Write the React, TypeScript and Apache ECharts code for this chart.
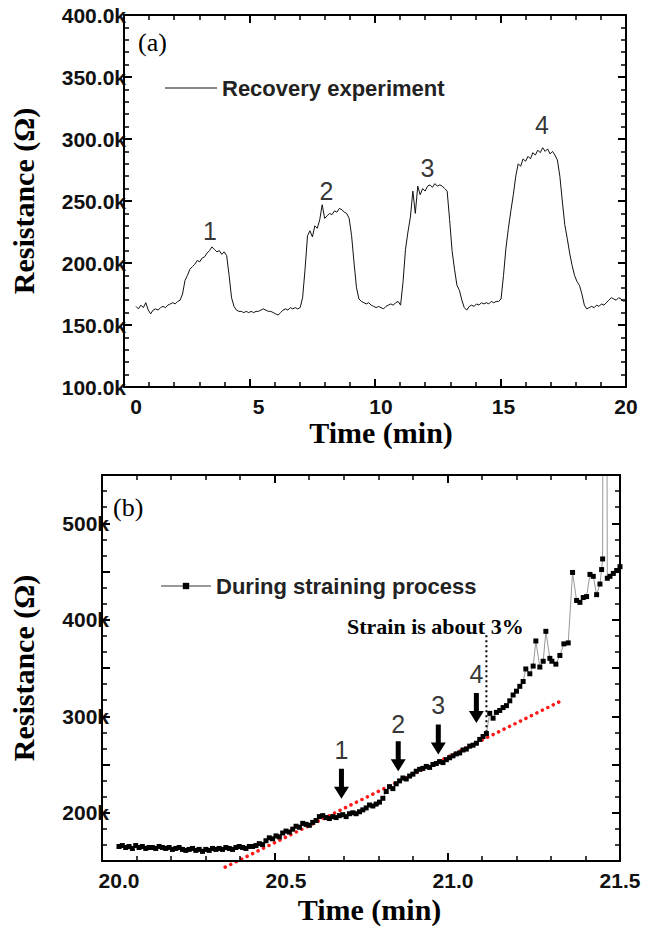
import React, { useEffect, useRef } from "react";
import * as echarts from "echarts";

// Panel (a): resistance (kΩ) sampled every 0.1 min from 0 to 20 min
const aStep = 0.1;
const aRes = [
  165, 163, 166, 164, 168, 162, 159, 162, 163, 162,
  164, 165, 164, 166, 167, 168, 167, 169, 170, 175,
  186, 190, 195, 197, 199, 202, 201, 204, 205, 208,
  210, 213, 211, 209, 210, 207, 209, 206, 190, 172,
  165, 162, 161, 161, 160, 161, 160, 161, 160, 161,
  161, 162, 163, 162, 161, 161, 160, 159, 158, 160,
  162, 163, 162, 164, 163, 164, 163, 164, 172, 195,
  222, 226, 221, 230, 228, 235, 247, 236, 238, 240,
  239, 242, 241, 244, 243, 241, 240, 236, 222, 200,
  180, 171, 169, 168, 167, 168, 166, 165, 164, 165,
  164, 163, 165, 166, 167, 166, 168, 169, 166, 185,
  211, 225, 237, 258, 240, 262, 255, 260, 258, 262,
  263, 261, 264, 262, 263, 262, 260, 258, 235, 210,
  195, 182, 178, 170, 164, 162, 165, 166, 165, 167,
  166, 168, 167, 168, 167, 169, 168, 169, 169, 171,
  190, 212, 228, 242, 255, 270, 280, 278, 284, 282,
  286, 284, 289, 287, 291, 289, 293, 290, 292, 288,
  290, 287, 283, 270, 250, 231, 220, 208, 198, 190,
  185, 182, 175, 166, 163, 164, 165, 164, 166, 165,
  167, 166, 168, 170, 172, 171, 170, 172, 171, 169,
  170,
];
const aPeakLabels = [
  { name: "1", t: 3.02, r: 226 },
  { name: "2", t: 7.77, r: 258 },
  { name: "3", t: 11.9, r: 277 },
  { name: "4", t: 16.57, r: 311 },
];

// Panel (b): resistance (kΩ) every 0.01 min from 20.00 to 21.10 min
const bStart = 20.0;
const bStep = 0.01;
const bResUniform = [
  165, 166, 164, 165, 163, 166, 164, 165, 163, 164,
  164, 163, 165, 164, 163, 164, 162, 163, 164, 162,
  161, 162, 163, 161, 162, 160, 162, 161, 163, 162,
  163, 162, 164, 163, 162, 164, 165, 164, 163, 165,
  165, 166, 168, 167, 171, 174, 173, 176, 175, 179,
  181, 180, 183, 186, 185, 189, 188, 187, 190, 192,
  196, 197, 195, 194, 196, 195, 197, 198, 196, 199,
  200, 199, 201, 203, 205, 208, 207, 209, 211, 215,
  222, 227, 225, 230, 233, 236, 235, 238, 240, 243,
  245, 246, 248, 247, 250, 251, 253, 252, 255, 257,
  259, 261, 262, 265, 266, 269, 270, 272, 276, 279,
  282,
];
// later part (time min, resistance kΩ)
const bTailTime = [
  21.11, 21.12, 21.13, 21.14, 21.15, 21.16, 21.17, 21.18, 21.19, 21.2,
  21.21, 21.218, 21.23, 21.24, 21.248, 21.26, 21.27, 21.278, 21.29, 21.296,
  21.308, 21.32, 21.332, 21.345, 21.358, 21.37, 21.38, 21.39, 21.4, 21.41,
  21.42, 21.43, 21.44, 21.445, 21.448, 21.455, 21.462, 21.47, 21.48, 21.49, 21.5,
];
const bTailRes = [
  303, 298, 304, 306, 309, 311, 316, 322, 326, 331,
  336, 349, 344, 352, 378, 351, 357, 388, 360, 357,
  354, 363, 375, 376, 449, 420, 418, 423, 424, 447,
  445, 426, 437, 452, 463, 1500, 443, 445, 448, 451, 455,
];
const bFitTime = [20.318, 21.332];
const bFitRes = [143.6, 317.3];
const bStrainTime = [21.1, 21.1];
const bStrainRes = [384, 280];
const bArrows = [
  { name: "1", t: 20.666, r: 230, labelR: 264.7 },
  { name: "2", t: 20.836, r: 258.5, labelR: 292.4 },
  { name: "3", t: 20.956, r: 276, labelR: 311.4 },
  { name: "4", t: 21.07, r: 308.5, labelR: 343.9 },
];

// axis scales
const aX = { min: 0, max: 20, major: 5, minorN: 5 };
const aY = { min: 100, max: 400, major: 50, minorN: 5 };
const bX = { min: 20, max: 21.5, major: 0.5, minorN: 5 };
const bY = { min: 150, max: 550, major: 50, minorN: 3 };

const GRIDS = [
  { left: 124, top: 15, width: 502, height: 372 },
  { left: 102, top: 475, width: 518, height: 386 },
];

const SERIF = "'Liberation Serif', 'Times New Roman', serif";
const SANS = "'Liberation Sans', Arial, sans-serif";
const ARROW = "path://M5,0 L10,0 L10,18 L15,18 L7.5,30 L0,18 L5,18 Z";

function plainAxis(extra: any) {
  return {
    type: "value",
    axisLine: { show: false, onZero: false },
    axisTick: { show: false },
    minorTick: { show: false },
    splitLine: { show: false },
    ...extra,
  };
}

function frameAxis(gridIndex: number, s: any, position: string) {
  return {
    type: "value",
    gridIndex,
    min: s.min,
    max: s.max,
    interval: s.major,
    position,
    axisLine: { show: true, onZero: false, lineStyle: { color: "#000", width: 2 } },
    axisTick: { show: true, inside: true, length: 8, lineStyle: { color: "#000", width: 2 } },
    minorTick: { show: true, splitNumber: s.minorN, length: 5, lineStyle: { color: "#000", width: 1.5 } },
    axisLabel: { show: false },
    splitLine: { show: false },
  };
}

export default function App() {
  const ref = useRef<HTMLDivElement>(null);
  const frameRef = useRef<HTMLDivElement>(null);
  useEffect(() => {
    document.body.style.margin = "0";
    if (!ref.current || !frameRef.current) return;
    const chart = echarts.init(ref.current, undefined, { renderer: "svg" });
    const frameChart = echarts.init(frameRef.current, undefined, { renderer: "svg" });

    // Frame with inward major/minor ticks on all four sides of both panels
    const frameOption: any = {
      animation: false,
      grid: GRIDS,
      xAxis: [
        frameAxis(0, aX, "bottom"),
        frameAxis(0, aX, "top"),
        frameAxis(1, bX, "bottom"),
        frameAxis(1, bX, "top"),
      ],
      yAxis: [
        frameAxis(0, aY, "left"),
        frameAxis(0, aY, "right"),
        frameAxis(1, bY, "left"),
        frameAxis(1, bY, "right"),
      ],
      series: [
        { type: "line", xAxisIndex: 0, yAxisIndex: 0, data: [], symbol: "none" },
        { type: "line", xAxisIndex: 2, yAxisIndex: 2, data: [], symbol: "none" },
      ],
    };
    try {
      frameChart.setOption(frameOption);
    } catch (e) {
      /* ignore */
    }

    const aData = aRes.map((r, i) => [+(i * aStep).toFixed(2), r]);
    const bData: number[][] = bResUniform.map((r, i) => [+(bStart + i * bStep).toFixed(3), r]);
    bTailTime.forEach((t, i) => bData.push([t, bTailRes[i]]));

    const tickLabel = { fontFamily: SANS, fontWeight: "bold", fontSize: 21, color: "#111" };
    const nameStyle = { fontFamily: SERIF, fontWeight: "bold", fontSize: 30, color: "#000" };
    const legendText = { fontFamily: SANS, fontWeight: "bold", fontSize: 22, color: "#222" };

    const option: any = {
      animation: false,
      backgroundColor: "#fff",
      grid: GRIDS,
      xAxis: [
        plainAxis({ gridIndex: 0, min: aX.min, max: aX.max, interval: aX.major, position: "bottom", axisLabel: { ...tickLabel, margin: 9 }, name: "Time (min)", nameLocation: "middle", nameGap: 29, nameTextStyle: nameStyle }),
        plainAxis({ gridIndex: 1, min: bX.min, max: bX.max, interval: bX.major, position: "bottom", axisLabel: { ...tickLabel, margin: 9, formatter: (v: number) => v.toFixed(1) }, name: "Time (min)", nameLocation: "middle", nameGap: 33, nameTextStyle: nameStyle }),
      ],
      yAxis: [
        plainAxis({ gridIndex: 0, min: aY.min, max: aY.max, interval: aY.major, position: "left", axisLabel: { ...tickLabel, margin: 10, formatter: (v: number) => v.toFixed(1) + "k" }, name: "Resistance (Ω)", nameLocation: "middle", nameGap: 98, nameTextStyle: nameStyle }),
        plainAxis({ gridIndex: 1, min: bY.min, max: bY.max, interval: bY.major, position: "left", axisLabel: { ...tickLabel, margin: 10, formatter: (v: number) => (v % 100 === 0 ? v + "k" : "") }, name: "Resistance (Ω)", nameLocation: "middle", nameGap: 81, nameTextStyle: nameStyle }),
      ],
      legend: [
        {
          data: [{ name: "Recovery experiment", icon: "rect" }], left: 165, top: 77, padding: 0,
          itemWidth: 52, itemHeight: 2, itemStyle: { color: "#888" }, textStyle: legendText,
        },
        {
          data: ["During straining process"], left: 160, top: 575, padding: 0,
          itemWidth: 50, itemHeight: 8, textStyle: legendText,
        },
      ],
      graphic: [
        { type: "text", left: 138, top: 29, style: { text: "(a)", font: `26px ${SERIF}`, fill: "#000" } },
        { type: "text", left: 113, top: 494, style: { text: "(b)", font: `26px ${SERIF}`, fill: "#000" } },
        { type: "text", left: 347, top: 615, style: { text: "Strain is about 3%", font: `bold 22px ${SERIF}`, fill: "#000" } },
      ],
      series: [
        {
          name: "Recovery experiment", type: "line", xAxisIndex: 0, yAxisIndex: 0,
          data: aData, symbol: "none", lineStyle: { color: "#111", width: 1 },
        },
        {
          name: "During straining process", type: "line", xAxisIndex: 1, yAxisIndex: 1,
          data: bData, symbol: "rect", symbolSize: 5,
          itemStyle: { color: "#000" }, lineStyle: { color: "#999", width: 1 },
        },
        {
          type: "line", xAxisIndex: 1, yAxisIndex: 1, symbol: "none", clip: false,
          data: bFitTime.map((t, i) => [t, bFitRes[i]]),
          lineStyle: { color: "#ff1a1a", width: 3.5, type: [0.1, 6], cap: "round" },
        },
        {
          type: "line", xAxisIndex: 1, yAxisIndex: 1, symbol: "none",
          data: bStrainTime.map((t, i) => [t, bStrainRes[i]]),
          lineStyle: { color: "#000", width: 2, type: [2, 3] },
        },
        {
          type: "scatter", xAxisIndex: 1, yAxisIndex: 1, symbol: ARROW, symbolSize: [15, 30],
          itemStyle: { color: "#000", opacity: 1 },
          data: bArrows.map((p) => [p.t, p.r]),
        },
        {
          type: "scatter", xAxisIndex: 0, yAxisIndex: 0, symbolSize: 1,
          itemStyle: { color: "rgba(0,0,0,0)" },
          data: aPeakLabels.map((p) => ({ name: p.name, value: [p.t, p.r] })),
          label: { show: true, position: "inside", formatter: "{b}", fontFamily: SANS, fontSize: 25, color: "#000" },
        },
        {
          type: "scatter", xAxisIndex: 1, yAxisIndex: 1, symbolSize: 1,
          itemStyle: { color: "rgba(0,0,0,0)" },
          data: bArrows.map((p) => ({ name: p.name, value: [p.t, p.labelR] })),
          label: { show: true, position: "inside", formatter: "{b}", fontFamily: SANS, fontSize: 25, color: "#000" },
        },
      ],
    };
    try {
      chart.setOption(option);
    } catch (e) {
      /* ignore */
    }
    return () => {
      chart.dispose();
      frameChart.dispose();
    };
  }, []);
  return (
    <div style={{ position: "relative", width: 653, height: 929 }}>
      <div ref={ref} style={{ position: "absolute", left: 0, top: 0, width: 653, height: 929 }} />
      <div
        ref={frameRef}
        style={{ position: "absolute", left: 0, top: 0, width: 653, height: 929, pointerEvents: "none", zIndex: 1 }}
      />
    </div>
  );
}
